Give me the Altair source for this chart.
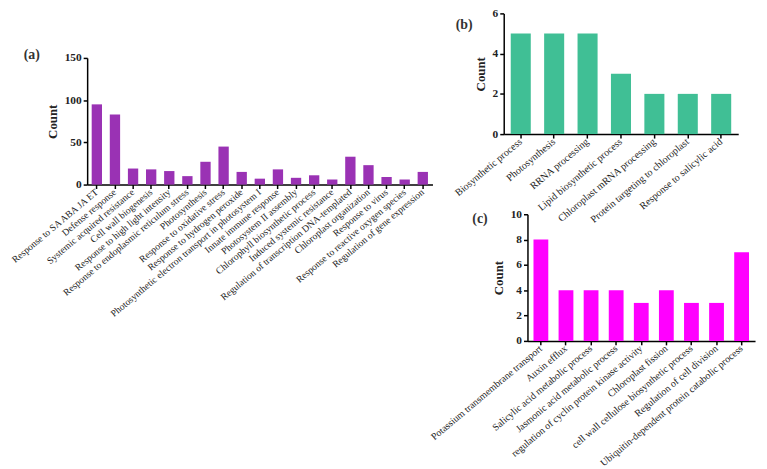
import altair as alt
import pandas as pd

SERIF = "Liberation Serif"

cats_a = [
    "Response to SA ABA JA ET", "Defense response", "Systemic acquired resistance",
    "Cell wall biogenesis", "Response to high light intensity",
    "Response to endoplasmic reticulum stress", "Photosynthesis",
    "Response to oxidative stress", "Response to hydrogen peroxide",
    "Photosynthetic electron transport in photosystem I", "Innate immune response",
    "Photosystem II assembly", "Chlorophyll biosynthetic process",
    "Induced systemic resistance", "Regulation of transcription DNA-templated",
    "Chloroplast organization", "Response to virus",
    "Response to reactive oxygen species", "Regulation of gene expression",
]
vals_a = [95, 83, 19, 18, 16, 10, 27, 45, 15, 7, 18, 8, 11, 6, 33, 23, 9, 6, 15]

cats_b = [
    "Biosynthetic process", "Photosynthesis", "RRNA processing",
    "Lipid biosynthetic process", "Chloroplast mRNA processing",
    "Protein targeting to chloroplast", "Response to salicylic acid",
]
vals_b = [5, 5, 5, 3, 2, 2, 2]

cats_c = [
    "Potassium transmembrane transport", "Auxin efflux",
    "Salicylic acid metabolic process", "Jasmonic acid metabolic process",
    "regulation of cyclin protein kinase activity", "Chloroplast fission",
    "cell wall cellulose biosynthetic process", "Regulation of cell division",
    "Ubiquitin-dependent protein catabolic process",
]
vals_c = [8, 4, 4, 4, 3, 4, 3, 3, 7]

panel_labels = ["(a)", "(b)", "(c)"]
colors = ["#9A32B4", "#40BF95", "#FF00FF"]


def panel(cats, vals, color, w, h, ymax, ystep, label, lx, ly, pi, po,
          xrange=None, yrange=None, yoffset=0, lfs=10.5):
    df = pd.DataFrame({"cat": cats, "val": vals})
    xscale = dict(paddingInner=pi, paddingOuter=po)
    if xrange is not None:
        xscale["range"] = xrange
    yscale = dict(domain=[0, ymax], nice=False)
    if yrange is not None:
        yscale["range"] = yrange
    bars = alt.Chart(df).mark_bar(color=color).encode(
        x=alt.X(
            "cat:N", sort=cats, title=None,
            scale=alt.Scale(**xscale),
            axis=alt.Axis(
                labelAngle=-40, labelAlign="right", labelBaseline="middle",
                labelFont=SERIF, labelFontSize=lfs, labelColor="#222222",
                labelLimit=400, labelPadding=2, domainColor="black",
                domainWidth=1.5, tickColor="black", tickWidth=1.5, tickSize=4,
            ),
        ),
        y=alt.Y(
            "val:Q", title="Count",
            scale=alt.Scale(**yscale),
            axis=alt.Axis(
                values=list(range(0, ymax + 1, ystep)), grid=False,
                offset=yoffset,
                labelFont=SERIF, labelFontSize=11.5, labelFontWeight="bold",
                labelColor="#222222", labelPadding=2,
                titleFont=SERIF, titleFontSize=13, titleFontWeight="bold",
                titleColor="#222222", titlePadding=5,
                domainColor="black", domainWidth=1.5, tickColor="black",
                tickWidth=1.5, tickSize=4,
            ),
        ),
    )
    txt = alt.Chart(pd.DataFrame({"t": [label]})).mark_text(
        font=SERIF, fontSize=14, fontWeight="bold", color="#333333",
        align="center", baseline="middle",
    ).encode(text="t:N", x=alt.value(lx), y=alt.value(ly))
    return alt.layer(bars, txt).properties(width=w, height=h)


# plot-area origins (page px): a=(88,11), b=(509,11), c=(509,214)
pa = panel(cats_a, vals_a, colors[0], 349, 173, 150, 50, panel_labels[0], -56, 42,
           0.43, 0.25, yrange=[173, 45], lfs=9.7)
pb = panel(cats_b, vals_b, colors[1], 237, 122, 6, 2, panel_labels[1], -40, 12,
           0.4, 0.21, lfs=10.2)
pc = panel(cats_c, vals_c, colors[2], 254, 128, 10, 2, panel_labels[2], -24, 5,
           0.41, 0.24, xrange=[24, 254], yoffset=-24, lfs=10)

col_bc = alt.vconcat(pb, pc, spacing=81, bounds="flush")

chart = alt.hconcat(pa, col_bc, spacing=72, bounds="flush").configure_view(
    stroke=None
).properties(
    autosize=alt.AutoSizeParams(type="none"),
    padding={"left": 80, "top": 3, "right": 679, "bottom": 458},
    background="white",
)

chart.save("out.html", embed_options={"renderer": "svg", "actions": False})
